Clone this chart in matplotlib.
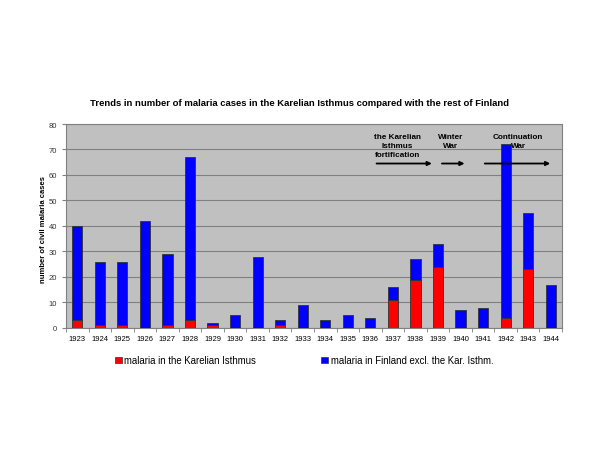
import matplotlib
matplotlib.use("Agg")
import matplotlib.pyplot as plt
import numpy as np
from matplotlib.patches import Rectangle

years = [str(y) for y in range(1923, 1945)]
karelian = [3, 1, 1, 0, 1, 3, 1, 0, 0, 1, 0, 0, 0, 0, 11, 19, 24, 0, 0, 4, 23, 0]
totals = [40, 26, 26, 42, 29, 67, 2, 5, 28, 3, 9, 3, 5, 4, 16, 27, 33, 7, 8, 72, 45, 17]
finland_rest = [t - k for t, k in zip(totals, karelian)]

title = "Trends in number of malaria cases in the Karelian Isthmus compared with the rest of Finland"
ylabel = "number of civil malaria cases"
legend_labels = ["malaria in the Karelian Isthmus", "malaria in Finland excl. the Kar. Isthm."]

plt.rcParams['font.family'] = ['Liberation Sans', 'DejaVu Sans']

fig = plt.figure(figsize=(6, 4.64), dpi=100)
ax = fig.add_axes([0.11, 0.291, 0.8267, 0.4396])
ax.set_facecolor('#C0C0C0')

x = np.arange(len(years))
w = 0.45
ax.bar(x, karelian, w, color='#FF0000', edgecolor='#333333', linewidth=0.6, zorder=3)
ax.bar(x, finland_rest, w, bottom=karelian, color='#0000FF', edgecolor='#333333', linewidth=0.6, zorder=3)

ax.set_xlim(-0.5, len(years) - 0.5)
ax.set_ylim(0, 80)
ax.set_yticks(range(0, 81, 10))
ax.yaxis.grid(True, color='#808080', linewidth=0.8, zorder=0)
ax.set_axisbelow(True)
ax.set_xticks(x)
ax.set_xticklabels(years, fontsize=5.5)
ax.tick_params(axis='x', length=0, pad=5)
ax.set_xticks(np.arange(-0.5, len(years), 1), minor=True)
ax.tick_params(axis='x', which='minor', length=3, color='#808080')
ax.tick_params(axis='y', labelsize=5.5, length=3, color='#808080', labelcolor='#333333')
for s in ax.spines.values():
    s.set_color('#808080')
    s.set_linewidth(0.8)

ax.set_ylabel(ylabel, fontsize=5.5, fontweight='bold')
ax.yaxis.set_label_coords(-0.038, 0.49)
fig.text(0.499, 1 - 104 / 464, title, ha='center', va='center', fontsize=6.8, fontweight='bold')

# Annotations with arrows
arrow_y = 64.5
arrow_kw = dict(arrowstyle='-|>', color='black', lw=1.3, mutation_scale=6)
for x0, x1 in [(13.15, 15.85), (16.05, 17.3), (17.95, 21.1)]:
    ax.annotate('', xy=(x1, arrow_y), xytext=(x0, arrow_y), arrowprops=arrow_kw,
                zorder=5, annotation_clip=False)
ax.text(14.2, 76.6, "the Karelian\nIsthmus\nfortification", ha='center', va='top',
        fontsize=5.9, fontweight='bold', linespacing=1.45, zorder=6)
ax.text(16.55, 76.6, "Winter\nWar", ha='center', va='top',
        fontsize=5.9, fontweight='bold', linespacing=1.45, zorder=6)
ax.text(19.55, 76.6, "Continuation\nWar", ha='center', va='top',
        fontsize=5.9, fontweight='bold', linespacing=1.45, zorder=6)

# Legend
ly = 1 - 361 / 464
fig.patches.append(Rectangle((115 / 600, ly - 0.0075), 0.011, 0.0145, transform=fig.transFigure,
                             facecolor='#FF0000', edgecolor='#333333', linewidth=0.5))
fig.text(124 / 600, ly, legend_labels[0], fontsize=6.9, va='center', ha='left')
fig.patches.append(Rectangle((321 / 600, ly - 0.0075), 0.011, 0.0145, transform=fig.transFigure,
                             facecolor='#0000FF', edgecolor='#333333', linewidth=0.5))
fig.text(331 / 600, ly, legend_labels[1], fontsize=6.9, va='center', ha='left')

fig.savefig('out.png', dpi=100, facecolor='white')
